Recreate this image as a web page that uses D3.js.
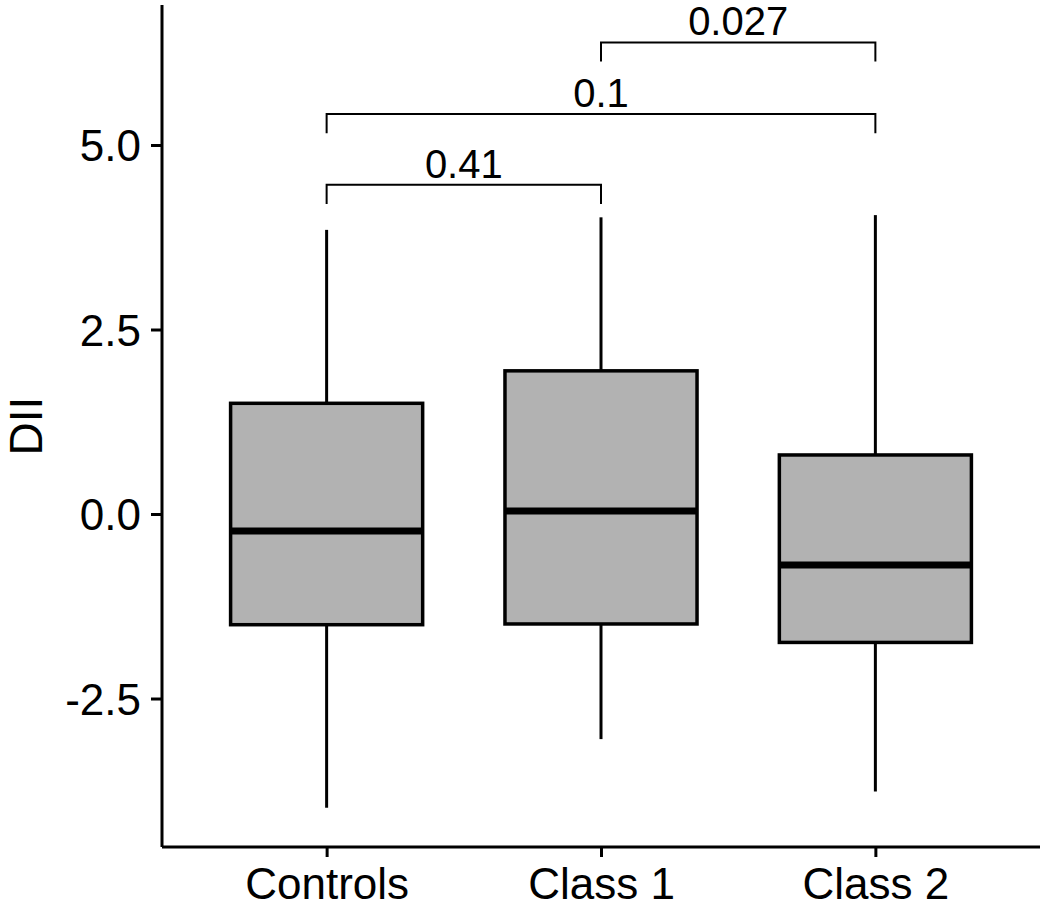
<!DOCTYPE html>
<html>
<head>
<meta charset="utf-8">
<script src="https://cdn.jsdelivr.net/npm/d3@7"></script>
<style>
  body { margin: 0; background: #fff; }
  svg text { font-family: "Liberation Sans", Arial, sans-serif; fill: #000; }
</style>
</head>
<body>
<div id="chart"></div>
<script>
// box statistics
var groups = ["Controls", "Class 1", "Class 2"];
var whiskerLow  = [-3.98, -3.05, -3.76];
var q1          = [-1.50, -1.49, -1.74];
var medians     = [-0.23,  0.04, -0.69];
var q3          = [ 1.50,  1.94,  0.80];
var whiskerHigh = [ 3.85,  4.02,  4.05];

// pairwise comparison brackets
var bracketFrom   = ["Controls", "Controls", "Class 1"];
var bracketTo     = ["Class 1", "Class 2", "Class 2"];
var bracketY      = [4.46, 5.42, 6.39];
var bracketLabels = ["0.41", "0.1", "0.027"];
var tipLength = 0.26;

var yTicks = [-2.5, 0, 2.5, 5];

var width = 1050, height = 909;
var margin = {top: 5, right: 10, bottom: 62, left: 162};

var svg = d3.select("#chart").append("svg")
    .attr("width", width)
    .attr("height", height);

var x = d3.scalePoint()
    .domain(groups)
    .range([margin.left, width - margin.right])
    .padding(0.6);

var y = d3.scaleLinear()
    .domain([-4.512, 6.897])
    .range([height - margin.bottom, margin.top]);

var boxW = x.step() * 0.7;

var data = groups.map(function(g, i) {
  return {g: g, lo: whiskerLow[i], q1: q1[i], med: medians[i], q3: q3[i], hi: whiskerHigh[i]};
});

var boxes = svg.append("g").attr("class", "boxes")
  .selectAll("g").data(data).enter().append("g");

// whiskers
boxes.append("line")
    .attr("x1", function(d) { return x(d.g); })
    .attr("x2", function(d) { return x(d.g); })
    .attr("y1", function(d) { return y(d.hi); })
    .attr("y2", function(d) { return y(d.q3); })
    .attr("stroke", "#000").attr("stroke-width", 3);
boxes.append("line")
    .attr("x1", function(d) { return x(d.g); })
    .attr("x2", function(d) { return x(d.g); })
    .attr("y1", function(d) { return y(d.q1); })
    .attr("y2", function(d) { return y(d.lo); })
    .attr("stroke", "#000").attr("stroke-width", 3);

boxes.append("rect")
    .attr("x", function(d) { return x(d.g) - boxW / 2; })
    .attr("y", function(d) { return y(d.q3); })
    .attr("width", boxW)
    .attr("height", function(d) { return y(d.q1) - y(d.q3); })
    .attr("fill", "#b2b2b2")
    .attr("stroke", "#000")
    .attr("stroke-width", 3.5);

boxes.append("line")
    .attr("x1", function(d) { return x(d.g) - boxW / 2; })
    .attr("x2", function(d) { return x(d.g) + boxW / 2; })
    .attr("y1", function(d) { return y(d.med); })
    .attr("y2", function(d) { return y(d.med); })
    .attr("stroke", "#000").attr("stroke-width", 7);

// brackets
var br = svg.append("g").attr("class", "brackets")
  .selectAll("g").data(bracketLabels).enter().append("g");

br.append("path")
    .attr("d", function(d, i) {
      var x1 = x(bracketFrom[i]), x2 = x(bracketTo[i]);
      return "M" + x1 + "," + y(bracketY[i] - tipLength) +
             "V" + y(bracketY[i]) + "H" + x2 + "V" + y(bracketY[i] - tipLength);
    })
    .attr("fill", "none")
    .attr("stroke", "#000")
    .attr("stroke-width", 2);

br.append("text")
    .attr("x", function(d, i) { return (x(bracketFrom[i]) + x(bracketTo[i])) / 2; })
    .attr("y", function(d, i) { return y(bracketY[i]) - 7; })
    .attr("text-anchor", "middle")
    .style("font-size", "40px")
    .text(function(d) { return d; });

// axes
var xAxis = d3.axisBottom(x).tickSize(10).tickPadding(11);
var yAxis = d3.axisLeft(y).tickValues(yTicks).tickSize(11).tickPadding(10)
    .tickFormat(function(d) { return d3.format(".1f")(d).replace("\u2212", "-"); });

var gx = svg.append("g")
    .attr("transform", "translate(0," + (height - margin.bottom) + ")")
    .call(xAxis);
var gy = svg.append("g")
    .attr("transform", "translate(" + margin.left + ",0)")
    .call(yAxis);

[gx, gy].forEach(function(g) {
  g.select(".domain").attr("stroke", "#000").attr("stroke-width", 3);
  g.selectAll(".tick line").attr("stroke", "#000").attr("stroke-width", 3);
  g.selectAll(".tick text").style("font-size", "44px").attr("fill", "#000")
    .style("font-family", '"Liberation Sans", Arial, sans-serif');
});
// remove outer tick caps from domain path
gx.select(".domain").attr("d", "M" + margin.left + ",0H" + (width - margin.right));
gy.select(".domain").attr("d", "M0," + margin.top + "V" + (height - margin.bottom));
gy.selectAll(".tick text").attr("dy", "0.36em");

svg.append("text")
    .attr("transform", "translate(42," + ((margin.top + height - margin.bottom) / 2) + ") rotate(-90)")
    .attr("text-anchor", "middle")
    .style("font-size", "46px")
    .text("DII");
</script>
</body>
</html>
